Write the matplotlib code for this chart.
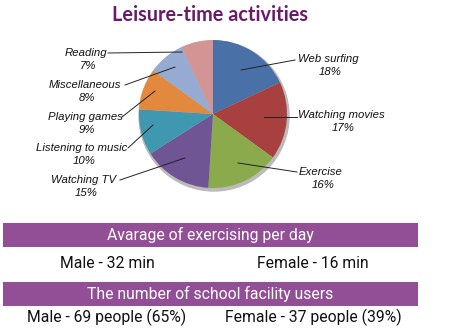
import matplotlib.pyplot as plt
from matplotlib.patches import Rectangle, Ellipse

activities = ['Web surfing', 'Watching movies', 'Exercise', 'Watching TV',
              'Listening to music', 'Playing games', 'Miscellaneous', 'Reading']
shares = [18, 17, 16, 15, 10, 9, 8, 7]
colors = ['#4a70a8', '#a8403f', '#8aaa4c', '#6f5593',
          '#3f98b0', '#e2893d', '#96abd2', '#d39594']

band_titles = ['Avarage of exercising per day', 'The number of school facility users']
band_rows = [['Male - 32 min', 'Female - 16 min'],
             ['Male - 69 people (65%)', 'Female - 37 people (39%)']]

W, H = 450, 336
fig = plt.figure(figsize=(4.5, 3.36), dpi=100)
ax = fig.add_axes([0, 0, 1, 1])

def Y(y):
    return H - y

cx, cy, r = 213, 114, 74

# soft shadow under the pie
ax.add_patch(Ellipse((cx + 1, Y(cy) - 2), 2 * r + 2, 2 * r + 2, color='#bbbbbb', zorder=1))

wedges, _ = ax.pie(shares, colors=colors, startangle=90, counterclock=False,
                   center=(cx, Y(cy)), radius=r, frame=True,
                   wedgeprops=dict(linewidth=0, zorder=2))
ax.set_xlim(0, W)
ax.set_ylim(0, H)
ax.set_aspect('equal')
ax.axis('off')

# label text centre, line start, line end (image coords)
label_pos = [
    ((328, 59), (295, 60), (241, 70)),
    ((341, 115), (297, 117), (264, 117)),
    ((321, 172), (297, 172), (238, 163)),
    ((84, 180), (120, 180), (185, 158)),
    ((82, 148), (128, 148), (153, 125)),
    ((85, 117), (122, 117), (155, 91)),
    ((85, 85), (125, 85), (175, 67)),
    ((86, 53), (108, 53), (182, 52)),
]
for name, pct, (tp, a, b) in zip(activities, shares, label_pos):
    ax.text(tp[0], Y(tp[1]), name, ha='center', va='center', fontsize=8.2,
            style='italic', family='Liberation Sans', color='#111111', zorder=5)
    ax.text(tp[0] + 2, Y(tp[1] + 13), f'{pct}%', ha='center', va='center', fontsize=8.2,
            style='italic', family='Liberation Sans', color='#111111', zorder=5)
    ax.plot([a[0], b[0]], [Y(a[1]), Y(b[1])], color='#222222', lw=0.7, zorder=4)

ax.text(210, Y(15), 'Leisure-time activities', ha='center', va='center',
        fontsize=14.3, fontweight='bold', family='Lato', color='#6b1a6b')

band_y = [223, 282]
row_y = [263, 317]
for title, row, by, ry in zip(band_titles, band_rows, band_y, row_y):
    ax.add_patch(Rectangle((3, Y(by + 24)), 415, 24, color='#934f96', lw=0, zorder=2))
    ax.text(210, Y(by + 12), title, ha='center', va='center', fontsize=11.3,
            family='Roboto', color='white', zorder=3)
    ax.text(107, Y(ry), row[0], ha='center', va='center', fontsize=11.3,
            family='Roboto', color='#111111')
    ax.text(313, Y(ry), row[1], ha='center', va='center', fontsize=11.3,
            family='Roboto', color='#111111')

fig.savefig('out.png', dpi=100)
